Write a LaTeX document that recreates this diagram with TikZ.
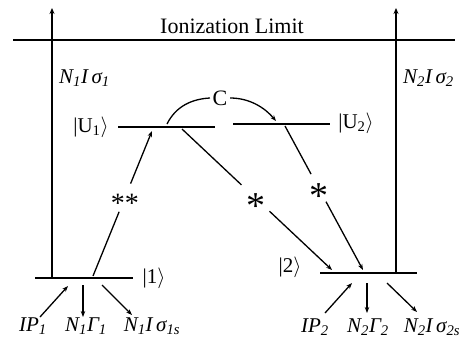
\documentclass[tikz,border=0pt]{standalone}
\usepackage{fontspec}
\setmainfont{Liberation Serif}
\usetikzlibrary{arrows.meta,calc}
\begin{document}
\begin{tikzpicture}[x=1pt,y=-1pt,
  level/.style={line width=2.8pt},
  vline/.style={line width=2pt,-{Stealth[length=6pt,width=5pt]}},
  arr/.style={line width=1.3pt,-{Stealth[length=6pt,width=4.5pt]}},
  plain/.style={line width=1.3pt},
  lab/.style={font=\fontsize{21}{24}\selectfont\itshape, inner sep=0pt},
  ket/.style={font=\fontsize{21}{24}\selectfont, inner sep=0pt},
  gap/.style={circle, inner sep=0pt},
  smallstar/.style={font=\fontsize{28}{30}\selectfont, inner sep=0pt},
  bigstar/.style={font=\fontsize{38}{40}\selectfont, inner sep=0pt}]
\useasboundingbox (0,0) rectangle (463,343);

% ionization limit
\coordinate (ionL) at (13,40);
\coordinate (ionR) at (455,40);
\draw[level] (ionL) -- (ionR);
\node[font=\fontsize{22}{26}\selectfont, inner sep=0pt] (ion) at (232,26) {Ionization Limit};

% levels
\coordinate (l1L) at (35,278);  \coordinate (l1R) at (133,278);
\coordinate (u1L) at (118,127); \coordinate (u1R) at (215,127);
\coordinate (u2L) at (233,124); \coordinate (u2R) at (330,124);
\coordinate (l2L) at (320,273); \coordinate (l2R) at (417,273);
\draw[level] (l1L) -- (l1R);
\draw[level] (u1L) -- (u1R);
\draw[level] (u2L) -- (u2R);
\draw[level] (l2L) -- (l2R);

% ionization arrows
\coordinate (v1b) at (52,278); \coordinate (v1t) at (52,8);
\coordinate (v2b) at (396,273); \coordinate (v2t) at (396,8);
\draw[vline] (v1b) -- (v1t);
\draw[vline] (v2b) -- (v2t);
\node[lab, anchor=base west] (n1) at (59,83) {N\textsubscript{1}I\,σ\textsubscript{1}};
\node[lab, anchor=base west] (n2) at (403,83) {N\textsubscript{2}I\,σ\textsubscript{2}};

% kets
\node[ket] (ku1) at (91,127) {|U\textsubscript{1}$\rangle$};
\node[ket] (ku2) at (356,123) {|U\textsubscript{2}$\rangle$};
\node[ket] (k1) at (154,278) {|1$\rangle$};
\node[ket] (k2) at (290,267) {|2$\rangle$};

% coupling C
\node[font=\fontsize{22}{26}\selectfont, inner sep=2.5pt] (C) at (220,98) {C};
\coordinate (cs) at (167,124);
\coordinate (ce) at (276,121);
\draw[plain] (cs) .. controls (176,106) and (192,99) .. (C.west);
\draw[arr] (C.east) .. controls (250,98) and (265,108) .. (ce);

% transitions
\coordinate (t1s) at (93,276);  \coordinate (t1e) at (152,131);
\coordinate (t2s) at (182,129); \coordinate (t2e) at (332,270);
\coordinate (t3s) at (285,126); \coordinate (t3e) at (363,270);
\node[gap, minimum size=30pt] (s1) at ($(t1s)!0.54!(t1e)$) {};
\node[gap, minimum size=38pt] (s2) at ($(t2s)!0.49!(t2e)$) {};
\node[gap, minimum size=31pt] (s3) at ($(t3s)!0.43!(t3e)$) {};
\draw[arr] (t1s) -- (s1) -- (t1e);
\draw[arr] (t2s) -- (s2) -- (t2e);
\draw[arr] (t3s) -- (s3) -- (t3e);
\node[smallstar] (s1t) at ($(s1)+(0,6)$) {**};
\node[bigstar] (s2t) at ($(s2)+(0,8)$) {*};
\node[bigstar] (s3t) at ($(s3)+(0,8)$) {*};

% bottom processes, level 1
\coordinate (a1s) at (40,317);  \coordinate (a1e) at (68,286);
\coordinate (b1s) at (83,285);  \coordinate (b1e) at (83,317);
\coordinate (c1s) at (102,285); \coordinate (c1e) at (132,315);
\draw[arr] (a1s) -- (a1e);
\draw[arr] (b1s) -- (b1e);
\draw[arr] (c1s) -- (c1e);
\node[lab, anchor=base] (ip1) at (33,331) {IP\textsubscript{1}};
\node[lab, anchor=base] (g1) at (86,331) {N\textsubscript{1}Γ\textsubscript{1}};
\node[lab, anchor=base] (x1) at (152,331) {N\textsubscript{1}I\,σ\textsubscript{1s}};

% bottom processes, level 2
\coordinate (a2s) at (325,313); \coordinate (a2e) at (352,283);
\coordinate (b2s) at (367,283); \coordinate (b2e) at (367,313);
\coordinate (c2s) at (387,283); \coordinate (c2e) at (417,312);
\draw[arr] (a2s) -- (a2e);
\draw[arr] (b2s) -- (b2e);
\draw[arr] (c2s) -- (c2e);
\node[lab, anchor=base] (ip2) at (315,332) {IP\textsubscript{2}};
\node[lab, anchor=base] (g2) at (368,332) {N\textsubscript{2}Γ\textsubscript{2}};
\node[lab, anchor=base] (x2) at (432,332) {N\textsubscript{2}I\,σ\textsubscript{2s}};
\end{tikzpicture}
\end{document}
